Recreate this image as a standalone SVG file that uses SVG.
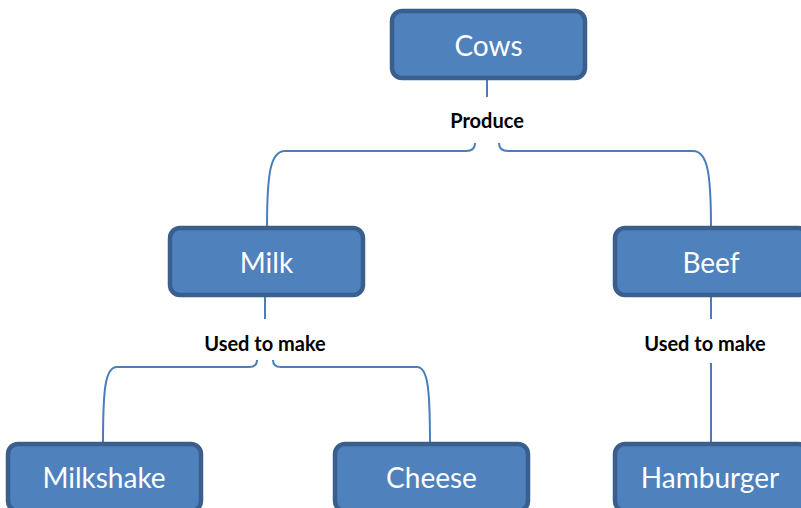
<svg xmlns="http://www.w3.org/2000/svg" width="801" height="508" viewBox="0 0 801 508">
<style>
.box{fill:#4F81BD;stroke:#3A5F8E;stroke-width:4.5}
.nt{font-family:Lato,"Liberation Sans",sans-serif;font-size:28px;fill:#FFFFFF;text-anchor:middle}
.lbl{font-family:Lato,"Liberation Sans",sans-serif;font-size:20px;font-weight:bold;fill:#000000;text-anchor:middle}
.c{fill:none;stroke:#4A7EBB;stroke-width:2}
</style>
<rect width="801" height="508" fill="#FFFFFF"/>
<g id="connectors">
<path class="c" d="M487,79 L487,97"/>
<path class="c" d="M475,143 Q475,151 466,151 L285,151 C270,151 267,175 267,228"/>
<path class="c" d="M499,143 Q499,151 508,151 L693,151 C708,151 711,175 711,228"/>
<path class="c" d="M265,296 L265,319"/>
<path class="c" d="M257,360 Q257,367 249,367 L117,367 C105,367 103,390 103,444"/>
<path class="c" d="M273,360 Q273,367 281,367 L417,367 C428,367 430,390 430,444"/>
<path class="c" d="M711,296 L711,319"/>
<path class="c" d="M711,363 L711,444"/>
</g>
<g id="labels">
<text class="lbl" x="487" y="128">Produce</text>
<text class="lbl" x="265" y="351">Used to make</text>
<text class="lbl" x="705" y="351">Used to make</text>
</g>
<g id="cows"><rect class="box" x="392" y="11" width="193" height="67" rx="10"/><text class="nt" x="488.5" y="56">Cows</text></g>
<g id="milk"><rect class="box" x="170" y="228" width="193" height="67" rx="10"/><text class="nt" x="266.5" y="273">Milk</text></g>
<g id="beef"><rect class="box" x="615" y="228" width="193" height="67" rx="10"/><text class="nt" x="711" y="273">Beef</text></g>
<g id="milkshake"><rect class="box" x="8" y="444" width="193" height="67" rx="10"/><text class="nt" x="104" y="488">Milkshake</text></g>
<g id="cheese"><rect class="box" x="335" y="444" width="193" height="67" rx="10"/><text class="nt" x="431.5" y="488">Cheese</text></g>
<g id="hamburger"><rect class="box" x="615" y="444" width="193" height="67" rx="10"/><text class="nt" x="710" y="488">Hamburger</text></g>
</svg>
